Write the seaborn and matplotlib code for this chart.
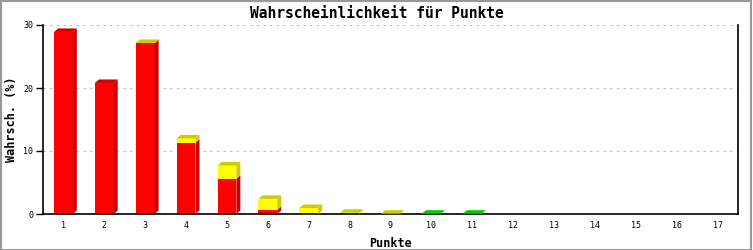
import numpy as np
import pandas as pd
import matplotlib
matplotlib.use("Agg")
import matplotlib.pyplot as plt
import seaborn as sns
from matplotlib.patches import Polygon, Rectangle

# ---- data ----
punkte = [str(i) for i in range(1, 18)]
rot = [28.9, 20.8, 27.1, 11.3, 5.6, 0.65, 0, 0, 0, 0, 0, 0, 0, 0, 0, 0, 0]
gelb = [0, 0, 0.05, 0.7, 2.1, 1.75, 0.95, 0.2, 0.05, 0, 0, 0, 0, 0, 0, 0, 0]
gruen = [0, 0, 0, 0, 0, 0, 0, 0, 0, 0.05, 0.05, 0, 0, 0, 0, 0, 0]
y_ticks = [0, 10, 20, 30]

title = "Wahrscheinlichkeit für Punkte"
xlabel = "Punkte"
ylabel = "Wahrsch. (%)"

# ---- style ----
sns.set_style("white")
plt.rcParams["font.family"] = ["DejaVu Sans Mono", "DejaVu Sans"]
plt.rcParams["text.color"] = "black"
plt.rcParams["axes.labelcolor"] = "black"
plt.rcParams["xtick.color"] = "black"
plt.rcParams["ytick.color"] = "black"

front = {"r": "#FF0000", "y": "#FFFF00", "g": "#00FF00"}
dark = {"r": "#CC0000", "y": "#CCCC00", "g": "#00CC00"}

fig = plt.figure(figsize=(7.53, 2.5), dpi=100)
ax = fig.add_axes([43 / 753, 36 / 250, 695 / 753, 189 / 250])

df = pd.DataFrame({"Punkte": punkte, "rot": rot, "gelb": gelb, "gruen": gruen})
df["c_r"] = df["rot"]
df["c_y"] = df["rot"] + df["gelb"]
df["c_g"] = df["rot"] + df["gelb"] + df["gruen"]

bw = 0.46
# front faces, layered cumulative totals
for col, key in [("c_g", "g"), ("c_y", "y"), ("c_r", "r")]:
    sns.barplot(data=df, x="Punkte", y=col, color=front[key], saturation=1,
                width=bw, ax=ax, linewidth=0, dodge=False, errorbar=None)

ax.set_xlim(-0.5, 16.5)
ax.set_ylim(0, 30)

# 3D depth (data units)
dx = 4 / 41
dy = 3.5 / 6.3

for i in range(len(punkte)):
    segs = [("r", rot[i]), ("y", gelb[i]), ("g", gruen[i])]
    x0 = i - bw / 2
    x1 = i + bw / 2
    base = 0
    last = None
    for key, v in segs:
        if v <= 0:
            continue
        top = base + v
        side = Polygon([(x1, base), (x1 + dx, base + dy), (x1 + dx, top + dy), (x1, top)],
                       closed=True, facecolor=dark[key], edgecolor="none", zorder=3)
        ax.add_patch(side)
        base = top
        last = key
    if last is not None:
        top = base
        tp = Polygon([(x0, top), (x1, top), (x1 + dx, top + dy), (x0 + dx, top + dy)],
                     closed=True, facecolor=dark[last], edgecolor="none", zorder=3)
        ax.add_patch(tp)

# grid
for t in y_ticks[1:]:
    ax.axhline(t, color="#BBBBBB", linestyle=(0, (2, 4)), linewidth=0.8, zorder=0)

ax.set_yticks(y_ticks)
ax.set_yticklabels([str(t) for t in y_ticks], fontsize=6)
ax.tick_params(axis="y", direction="out", length=5, width=1, color="black", pad=2, left=True)
ax.tick_params(axis="x", length=0, pad=5, labelsize=6)

for s in ["left", "bottom", "right"]:
    ax.spines[s].set_visible(True)
    ax.spines[s].set_color("black")
    ax.spines[s].set_linewidth(1.2)
ax.spines["top"].set_visible(False)

ax.set_xlabel(xlabel, fontsize=8.5, fontweight="bold", labelpad=5)
ax.set_ylabel(ylabel, fontsize=8.5, fontweight="bold")
ax.yaxis.label.set_va("center")
ax.yaxis.label.set_ha("center")
ax.yaxis.set_label_coords(-31 / 695, 0.5)
fig.text(0.5, 0.945, title, ha="center", va="center", fontsize=10.5, fontweight="bold")

# outer gray frame
fig.patches.append(Rectangle((0.001, 0.002), 0.997, 0.996, transform=fig.transFigure,
                             fill=False, edgecolor="#999999", linewidth=1.5))

fig.savefig("out.png", dpi=100, facecolor="white")
